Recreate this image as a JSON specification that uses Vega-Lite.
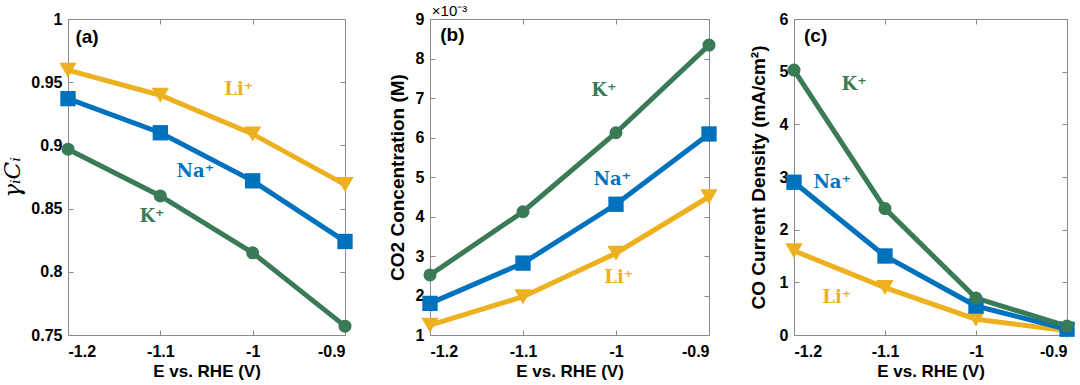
{
  "$schema": "https://vega.github.io/schema/vega-lite/v6.json",
  "padding": {"left": 0, "top": 3, "right": 4, "bottom": 0},
  "background": "white",
  "spacing": 85,
  "bounds": "flush",
  "datasets": {
    "a": [
      {"E": -1.2, "v": 0.9595, "ion": "Li"}, {"E": -1.1, "v": 0.9397, "ion": "Li"}, {"E": -1.0, "v": 0.909, "ion": "Li"}, {"E": -0.9, "v": 0.869, "ion": "Li"},
      {"E": -1.2, "v": 0.937, "ion": "Na"}, {"E": -1.1, "v": 0.910, "ion": "Na"}, {"E": -1.0, "v": 0.872, "ion": "Na"}, {"E": -0.9, "v": 0.824, "ion": "Na"},
      {"E": -1.2, "v": 0.897, "ion": "K"}, {"E": -1.1, "v": 0.860, "ion": "K"}, {"E": -1.0, "v": 0.815, "ion": "K"}, {"E": -0.9, "v": 0.757, "ion": "K"}
    ],
    "b": [
      {"E": -1.2, "v": 0.00125, "ion": "Li"}, {"E": -1.1, "v": 0.00197, "ion": "Li"}, {"E": -1.0, "v": 0.00307, "ion": "Li"}, {"E": -0.9, "v": 0.0045, "ion": "Li"},
      {"E": -1.2, "v": 0.0018, "ion": "Na"}, {"E": -1.1, "v": 0.00282, "ion": "Na"}, {"E": -1.0, "v": 0.00431, "ion": "Na"}, {"E": -0.9, "v": 0.00609, "ion": "Na"},
      {"E": -1.2, "v": 0.00252, "ion": "K"}, {"E": -1.1, "v": 0.00412, "ion": "K"}, {"E": -1.0, "v": 0.00612, "ion": "K"}, {"E": -0.9, "v": 0.00834, "ion": "K"}
    ],
    "c": [
      {"E": -1.2, "v": 1.6, "ion": "Li"}, {"E": -1.1, "v": 0.9, "ion": "Li"}, {"E": -1.0, "v": 0.3, "ion": "Li"}, {"E": -0.9, "v": 0.08, "ion": "Li"},
      {"E": -1.2, "v": 2.9, "ion": "Na"}, {"E": -1.1, "v": 1.5, "ion": "Na"}, {"E": -1.0, "v": 0.55, "ion": "Na"}, {"E": -0.9, "v": 0.11, "ion": "Na"},
      {"E": -1.2, "v": 5.03, "ion": "K"}, {"E": -1.1, "v": 2.4, "ion": "K"}, {"E": -1.0, "v": 0.7, "ion": "K"}, {"E": -0.9, "v": 0.17, "ion": "K"}
    ],
    "la": [
      {"E": -1.015, "v": 0.944, "text": "Li⁺", "ion": "Li"},
      {"E": -1.062, "v": 0.879, "text": "Na⁺", "ion": "Na"},
      {"E": -1.109, "v": 0.843, "text": "K⁺", "ion": "K"}
    ],
    "lb": [
      {"E": -1.013, "v": 0.00717, "text": "K⁺", "ion": "K"},
      {"E": -1.004, "v": 0.00492, "text": "Na⁺", "ion": "Na"},
      {"E": -0.997, "v": 0.00244, "text": "Li⁺", "ion": "Li"}
    ],
    "lc": [
      {"E": -1.134, "v": 4.74, "text": "K⁺", "ion": "K"},
      {"E": -1.158, "v": 2.89, "text": "Na⁺", "ion": "Na"},
      {"E": -1.153, "v": 0.71, "text": "Li⁺", "ion": "Li"}
    ],
    "pa": [{"E": -1.192, "v": 0.986, "text": "(a)"}],
    "pb": [{"E": -1.189, "v": 0.00859, "text": "(b)"}, {"E": -1.198, "v": 0.0092, "text": "×10⁻³"}],
    "pc": [{"E": -1.189, "v": 5.67, "text": "(c)"}]
  },
  "hconcat": [
    {
      "width": 277, "height": 316,
      "layer": [
        {
          "data": {"name": "a"},
          "mark": {"type": "line", "strokeWidth": 5},
          "encoding": {
            "x": {"field": "E", "type": "quantitative", "scale": {"domain": [-1.2, -0.9], "nice": false, "zero": false},
                  "axis": {"orient": "bottom", "values": [-1.2, -1.1, -1, -0.9], "labelExpr": "'' + datum.value", "title": "E vs. RHE (V)"}},
            "y": {"field": "v", "type": "quantitative", "scale": {"domain": [0.75, 1], "nice": false, "zero": false},
                  "axis": {"orient": "left", "values": [0.75, 0.8, 0.85, 0.9, 0.95, 1], "labelExpr": "'' + datum.value", "title": "γᵢCᵢ",
                           "titleFont": "DejaVu Serif", "titleFontStyle": "italic", "titleFontWeight": "normal", "titleFontSize": 23,
                           "minExtent": 40, "maxExtent": 40, "titlePadding": 4}},
            "color": {"field": "ion", "type": "nominal", "scale": {"domain": ["Li", "Na", "K"], "range": ["#EDB120", "#0072BD", "#3B7A57"]}, "legend": null},
            "detail": {"field": "ion"}
          }
        },
        {
          "data": {"name": "a"},
          "mark": {"type": "point", "filled": true, "opacity": 1},
          "encoding": {
            "x": {"field": "E", "type": "quantitative", "axis": {"orient": "top", "values": [-1.2, -1.1, -1, -0.9], "labels": false, "title": null, "minExtent": 0, "maxExtent": 0}},
            "y": {"field": "v", "type": "quantitative", "axis": {"orient": "right", "values": [0.75, 0.8, 0.85, 0.9, 0.95, 1], "labels": false, "title": null, "minExtent": 0, "maxExtent": 0}},
            "color": {"field": "ion", "type": "nominal", "legend": null},
            "shape": {"field": "ion", "type": "nominal", "scale": {"domain": ["Li", "Na", "K"], "range": ["triangle-down", "square", "circle"]}, "legend": null},
            "size": {"field": "ion", "type": "nominal", "scale": {"domain": ["Li", "Na", "K"], "range": [300, 170, 200]}, "legend": null}
          }
        },
        {
          "data": {"name": "la"},
          "mark": {"type": "text", "font": "DejaVu Serif", "fontWeight": "bold", "fontSize": 18},
          "encoding": {
            "x": {"field": "E", "type": "quantitative", "axis": null},
            "y": {"field": "v", "type": "quantitative", "axis": null},
            "text": {"field": "text"},
            "color": {"field": "ion", "type": "nominal", "legend": null}
          }
        },
        {
          "data": {"name": "pa"},
          "mark": {"type": "text", "font": "Liberation Sans", "fontWeight": "bold", "fontSize": 19, "align": "left", "color": "black"},
          "encoding": {
            "x": {"field": "E", "type": "quantitative", "axis": null},
            "y": {"field": "v", "type": "quantitative", "axis": null},
            "text": {"field": "text"}
          }
        }
      ],
      "resolve": {"axis": {"x": "independent", "y": "independent"}}
    },
    {
      "width": 279, "height": 316,
      "layer": [
        {
          "data": {"name": "b"},
          "mark": {"type": "line", "strokeWidth": 5},
          "encoding": {
            "x": {"field": "E", "type": "quantitative", "scale": {"domain": [-1.2, -0.9], "nice": false, "zero": false},
                  "axis": {"orient": "bottom", "values": [-1.2, -1.1, -1, -0.9], "labelExpr": "'' + datum.value", "title": "E vs. RHE (V)"}},
            "y": {"field": "v", "type": "quantitative", "scale": {"domain": [0.001, 0.009], "nice": false, "zero": false},
                  "axis": {"orient": "left", "values": [0.001, 0.002, 0.003, 0.004, 0.005, 0.006, 0.007, 0.008, 0.009], "labelExpr": "'' + round(datum.value * 1000)", "title": "CO2 Concentration (M)",
                           "titleFontSize": 19, "minExtent": 18, "maxExtent": 18, "titlePadding": 5}},
            "color": {"field": "ion", "type": "nominal", "scale": {"domain": ["Li", "Na", "K"], "range": ["#EDB120", "#0072BD", "#3B7A57"]}, "legend": null},
            "detail": {"field": "ion"}
          }
        },
        {
          "data": {"name": "b"},
          "mark": {"type": "point", "filled": true, "opacity": 1},
          "encoding": {
            "x": {"field": "E", "type": "quantitative", "axis": {"orient": "top", "values": [-1.2, -1.1, -1, -0.9], "labels": false, "title": null, "minExtent": 0, "maxExtent": 0}},
            "y": {"field": "v", "type": "quantitative", "axis": {"orient": "right", "values": [0.001, 0.002, 0.003, 0.004, 0.005, 0.006, 0.007, 0.008, 0.009], "labels": false, "title": null, "minExtent": 0, "maxExtent": 0}},
            "color": {"field": "ion", "type": "nominal", "legend": null},
            "shape": {"field": "ion", "type": "nominal", "scale": {"domain": ["Li", "Na", "K"], "range": ["triangle-down", "square", "circle"]}, "legend": null},
            "size": {"field": "ion", "type": "nominal", "scale": {"domain": ["Li", "Na", "K"], "range": [300, 170, 200]}, "legend": null}
          }
        },
        {
          "data": {"name": "lb"},
          "mark": {"type": "text", "font": "DejaVu Serif", "fontWeight": "bold", "fontSize": 18},
          "encoding": {
            "x": {"field": "E", "type": "quantitative", "axis": null},
            "y": {"field": "v", "type": "quantitative", "axis": null},
            "text": {"field": "text"},
            "color": {"field": "ion", "type": "nominal", "legend": null}
          }
        },
        {
          "data": {"name": "pb"},
          "transform": [{"filter": "datum.text == '(b)'"}],
          "mark": {"type": "text", "font": "Liberation Sans", "fontWeight": "bold", "fontSize": 19, "align": "left", "color": "black"},
          "encoding": {
            "x": {"field": "E", "type": "quantitative", "axis": null},
            "y": {"field": "v", "type": "quantitative", "axis": null},
            "text": {"field": "text"}
          }
        },
        {
          "data": {"name": "pb"},
          "transform": [{"filter": "datum.text != '(b)'"}],
          "mark": {"type": "text", "font": "Liberation Sans", "fontSize": 15, "align": "left", "color": "black"},
          "encoding": {
            "x": {"field": "E", "type": "quantitative", "axis": null},
            "y": {"field": "v", "type": "quantitative", "axis": null},
            "text": {"field": "text"}
          }
        }
      ],
      "resolve": {"axis": {"x": "independent", "y": "independent"}}
    },
    {
      "width": 273, "height": 316,
      "layer": [
        {
          "data": {"name": "c"},
          "mark": {"type": "line", "strokeWidth": 5},
          "encoding": {
            "x": {"field": "E", "type": "quantitative", "scale": {"domain": [-1.2, -0.9], "nice": false, "zero": false},
                  "axis": {"orient": "bottom", "values": [-1.2, -1.1, -1, -0.9], "labelExpr": "'' + datum.value", "title": "E vs. RHE (V)"}},
            "y": {"field": "v", "type": "quantitative", "scale": {"domain": [0, 6], "nice": false, "zero": false},
                  "axis": {"orient": "left", "values": [0, 1, 2, 3, 4, 5, 6], "labelExpr": "'' + datum.value", "title": "CO Current Density (mA/cm²)",
                           "titleFontSize": 19, "minExtent": 18, "maxExtent": 18, "titlePadding": 8}},
            "color": {"field": "ion", "type": "nominal", "scale": {"domain": ["Li", "Na", "K"], "range": ["#EDB120", "#0072BD", "#3B7A57"]}, "legend": null},
            "detail": {"field": "ion"}
          }
        },
        {
          "data": {"name": "c"},
          "mark": {"type": "point", "filled": true, "opacity": 1},
          "encoding": {
            "x": {"field": "E", "type": "quantitative", "axis": {"orient": "top", "values": [-1.2, -1.1, -1, -0.9], "labels": false, "title": null, "minExtent": 0, "maxExtent": 0}},
            "y": {"field": "v", "type": "quantitative", "axis": {"orient": "right", "values": [0, 1, 2, 3, 4, 5, 6], "labels": false, "title": null, "minExtent": 0, "maxExtent": 0}},
            "color": {"field": "ion", "type": "nominal", "legend": null},
            "shape": {"field": "ion", "type": "nominal", "scale": {"domain": ["Li", "Na", "K"], "range": ["triangle-down", "square", "circle"]}, "legend": null},
            "size": {"field": "ion", "type": "nominal", "scale": {"domain": ["Li", "Na", "K"], "range": [300, 170, 200]}, "legend": null}
          }
        },
        {
          "data": {"name": "lc"},
          "mark": {"type": "text", "font": "DejaVu Serif", "fontWeight": "bold", "fontSize": 18},
          "encoding": {
            "x": {"field": "E", "type": "quantitative", "axis": null},
            "y": {"field": "v", "type": "quantitative", "axis": null},
            "text": {"field": "text"},
            "color": {"field": "ion", "type": "nominal", "legend": null}
          }
        },
        {
          "data": {"name": "pc"},
          "mark": {"type": "text", "font": "Liberation Sans", "fontWeight": "bold", "fontSize": 19, "align": "left", "color": "black"},
          "encoding": {
            "x": {"field": "E", "type": "quantitative", "axis": null},
            "y": {"field": "v", "type": "quantitative", "axis": null},
            "text": {"field": "text"}
          }
        }
      ],
      "resolve": {"axis": {"x": "independent", "y": "independent"}}
    }
  ],
  "config": {
    "view": {"stroke": "#8a8a8a", "strokeWidth": 1},
    "axis": {
      "domain": false, "grid": false,
      "tickColor": "#8a8a8a", "tickSize": -5, "tickWidth": 1,
      "labelFont": "Liberation Sans", "labelFontSize": 16, "labelFontWeight": "bold", "labelColor": "black",
      "labelPadding": 11,
      "titleFont": "Liberation Sans", "titleFontSize": 17, "titleFontWeight": "bold", "titleColor": "black"
    },
    "axisBottom": {"labelPadding": 13, "titlePadding": 4}
  }
}
